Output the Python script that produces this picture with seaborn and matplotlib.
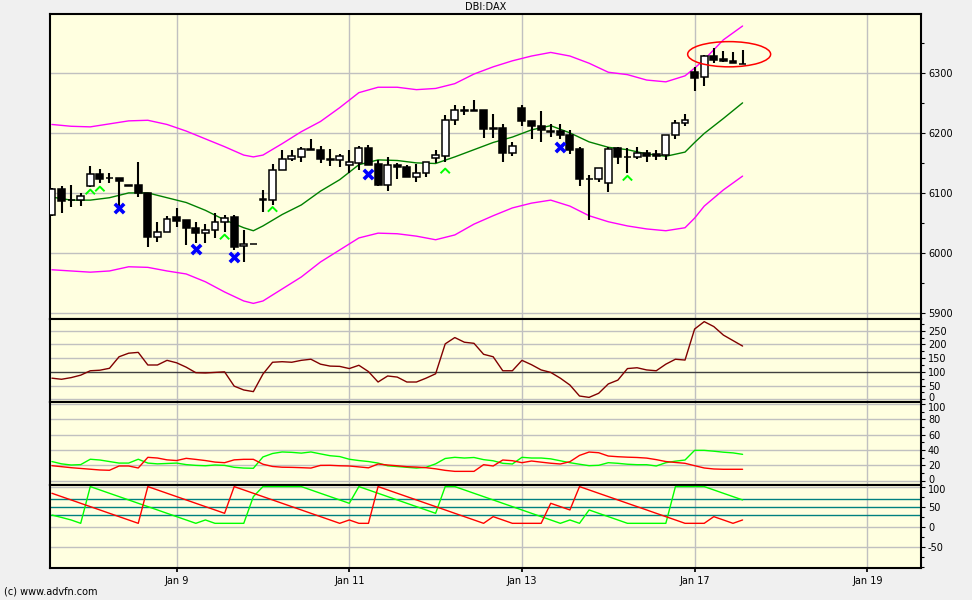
import numpy as np
import pandas as pd
import matplotlib
matplotlib.use("Agg")
import matplotlib.pyplot as plt
import seaborn as sns
from matplotlib.patches import Ellipse
from matplotlib.transforms import ScaledTranslation

sns.set_theme(style="white")
plt.rcParams["font.family"] = ["DejaVu Sans"]
plt.rcParams["axes.unicode_minus"] = False

# ---------------- data ----------------
title = "DBI:DAX"
footer = "(c) www.advfn.com"
day_pos = [13, 31, 49, 67, 85]
day_labels = ["Jan 9", "Jan 11", "Jan 13", "Jan 17", "Jan 19"]

opens = [6063, 6107, 6088, 6088, 6112, 6132, 6125, 6125, 6113, 6113,
         6100, 6027, 6035, 6060, 6055, 6042, 6033, 6038, 6052, 6060,
         6012, 6015, 6090, 6088, 6139, 6156, 6160, 6173, 6172, 6156,
         6154, 6146, 6150, 6174, 6148, 6113, 6146, 6143, 6127, 6133,
         6158, 6162, 6222, 6238, 6238, 6238, 6208, 6208, 6166, 6241,
         6220, 6212, 6203, 6203, 6197, 6173, 6123, 6123, 6117, 6174,
         6160, 6160, 6166, 6165, 6163, 6196, 6216, 6301, 6293, 6328,
         6323, 6320, 6314]
highs = [6108, 6112, 6113, 6100, 6145, 6140, 6133, 6125, 6113, 6152,
         6100, 6052, 6062, 6075, 6055, 6052, 6048, 6067, 6063, 6063,
         6038, 6015, 6105, 6148, 6172, 6172, 6176, 6190, 6178, 6173,
         6165, 6172, 6178, 6180, 6155, 6159, 6150, 6147, 6148, 6151,
         6171, 6229, 6246, 6245, 6255, 6238, 6232, 6215, 6185, 6246,
         6220, 6237, 6215, 6215, 6204, 6176, 6130, 6141, 6177, 6176,
         6175, 6176, 6172, 6172, 6196, 6222, 6232, 6310, 6330, 6341,
         6337, 6334, 6338]
lows = [6061, 6067, 6077, 6078, 6110, 6117, 6117, 6078, 6111, 6093,
        6010, 6018, 6035, 6043, 6013, 6017, 6017, 6025, 6035, 6005,
        5985, 6015, 6068, 6080, 6139, 6153, 6152, 6171, 6150, 6145,
        6143, 6134, 6138, 6147, 6112, 6104, 6123, 6126, 6119, 6126,
        6150, 6152, 6213, 6230, 6236, 6192, 6191, 6151, 6162, 6212,
        6190, 6185, 6193, 6189, 6164, 6112, 6055, 6119, 6102, 6148,
        6133, 6156, 6152, 6155, 6155, 6189, 6211, 6269, 6278, 6316,
        6318, 6316, 6314]
closes = [6107, 6087, 6088, 6095, 6132, 6123, 6125, 6120, 6111, 6100,
          6027, 6035, 6057, 6053, 6042, 6033, 6038, 6052, 6058, 6010,
          6015, 6015, 6088, 6139, 6156, 6161, 6173, 6171, 6156, 6154,
          6162, 6152, 6174, 6147, 6113, 6146, 6143, 6126, 6133, 6151,
          6163, 6222, 6238, 6236, 6236, 6206, 6206, 6166, 6178, 6219,
          6211, 6204, 6201, 6196, 6172, 6123, 6123, 6141, 6173, 6159,
          6160, 6166, 6162, 6161, 6196, 6216, 6221, 6292, 6328, 6322,
          6320, 6316, 6314]

band_idx = [0, 2, 4, 6, 8, 10, 12, 14, 16, 18, 20, 21, 22, 24, 26, 28, 30, 32,
            34, 36, 38, 40, 42, 44, 46, 48, 50, 52, 54, 56, 58, 60, 62, 64,
            66, 67, 68, 70, 72]
band_upper = [6214, 6211, 6210, 6215, 6220, 6221, 6214, 6203, 6190, 6177,
              6163, 6160, 6163, 6182, 6202, 6219, 6242, 6267, 6276, 6276,
              6272, 6274, 6282, 6298, 6310, 6320, 6328, 6334, 6328, 6316,
              6301, 6297, 6288, 6285, 6295, 6308, 6322, 6355, 6378]
band_mid = [6093, 6088, 6088, 6092, 6100, 6100, 6092, 6084, 6071, 6055,
            6042, 6037, 6045, 6064, 6080, 6103, 6122, 6147, 6155, 6154,
            6150, 6149, 6160, 6172, 6184, 6193, 6205, 6212, 6200, 6185,
            6176, 6172, 6165, 6161, 6168, 6184, 6199, 6224, 6250]
band_lower = [5972, 5970, 5968, 5970, 5977, 5976, 5970, 5965, 5952, 5935,
              5920, 5916, 5920, 5940, 5960, 5985, 6005, 6025, 6033, 6032,
              6028, 6022, 6030, 6048, 6062, 6075, 6083, 6088, 6078, 6062,
              6052, 6045, 6040, 6037, 6042, 6058, 6078, 6105, 6128]

sell_idx = [7, 15, 19, 33, 53]
sell_price = [6075, 6007, 5993, 6132, 6177]
buy_idx = [4, 5, 18, 23, 41, 60]
buy_price = [6102, 6107, 6027, 6073, 6137, 6125]

osc = [77, 73, 79, 88, 104, 106, 113, 155, 168, 171,
       125, 125, 142, 133, 117, 97, 96, 98, 100, 48,
       34, 28, 92, 135, 137, 135, 142, 146, 128, 121,
       120, 112, 124, 101, 63, 85, 81, 63, 63, 77,
       93, 202, 225, 208, 204, 164, 155, 104, 104, 142,
       126, 107, 98, 77, 52, 12, 7, 22, 56, 70,
       112, 115, 107, 104, 128, 146, 143, 256, 283, 265,
       234, 214, 194]

di_plus = [25, 22, 20.5, 21, 28, 27, 25, 23, 23, 28,
           23, 22, 22.5, 23, 21, 20, 19.5, 20.5, 20, 17.5,
           16.5, 16.2, 31, 35.5, 37.5, 37, 36, 37.5, 35, 32.6,
           31.5, 28, 26.3, 25, 23, 19.5, 18.5, 17.5, 16.5, 17.5,
           22, 29, 30.5, 29.6, 30.3, 27.5, 26, 22.7, 21.8, 30.5,
           29.6, 29.6, 28.5, 26, 23.5, 21.5, 19.6, 20.1, 23.5, 22.7,
           21.5, 20.9, 20.9, 19.2, 23.5, 25.5, 27, 39.6, 39.6, 38.5,
           37.2, 36.3, 34.4]
di_minus = [19.6, 18.3, 17, 16, 15, 14, 13.6, 19.2, 19.2, 16.6,
            30.5, 29.6, 27.2, 26.3, 29.2, 27.8, 26.3, 24.3, 23.5, 27.2,
            27.9, 27.9, 21.5, 18.6, 17.6, 17.4, 17, 16.5, 20, 20.1,
            19.5, 19.2, 18, 16.8, 21.8, 20.5, 19.5, 18.3, 17.8, 17,
            15.5, 13.5, 12.2, 12.2, 12.2, 20.9, 19.2, 27, 26.1, 23.5,
            25.7, 24.2, 22.8, 21.8, 24.8, 33, 37.4, 36.5, 32.2, 31.3,
            30.7, 30.3, 29.5, 27.5, 25, 23.8, 22.7, 19.6, 16.6, 15.3,
            14.9, 14.9, 14.9]

aroon_up = [29, 23, 16.7, 8.3, 100, 91.7, 83.3, 75, 66.7, 58.3,
            50, 41.7, 33.3, 25, 16.7, 8.3, 16.7, 8.3, 8.3, 8.3,
            8.3, 75, 100, 100, 100, 100, 100, 91.7, 83.3, 75,
            66.7, 58.3, 100, 91.7, 83.3, 75, 66.7, 58.3, 50, 41.7,
            33.3, 100, 100, 91.7, 83.3, 75, 66.7, 58.3, 50, 41.7,
            33.3, 25, 16.7, 8.3, 16.7, 8.3, 41.7, 33.3, 25, 16.7,
            8.3, 8.3, 8.3, 8.3, 8.3, 100, 100, 100, 100, 91.7,
            83.3, 75, 66.7]
aroon_down = [83.3, 75, 66.7, 58.3, 50, 41.7, 33.3, 25, 16.7, 8.3,
              100, 91.7, 83.3, 75, 66.7, 58.3, 50, 41.7, 33.3, 100,
              91.7, 83.3, 75, 66.7, 58.3, 50, 41.7, 33.3, 25, 16.7,
              8.3, 16.7, 8.3, 8.3, 100, 91.7, 83.3, 75, 66.7, 58.3,
              50, 41.7, 33.3, 25, 16.7, 8.3, 25, 16.7, 8.3, 8.3,
              8.3, 8.3, 58.3, 50, 41.7, 100, 91.7, 83.3, 75, 66.7,
              58.3, 50, 41.7, 33.3, 25, 16.7, 8.3, 8.3, 8.3, 25,
              16.7, 8.3, 16.7]

# ---------------- layout ----------------
FIG_BG = "#f0f0f0"
PLOT_BG = "#ffffe0"
GRID = "#c0c0c0"
W, H = 972, 600

fig = plt.figure(figsize=(9.72, 6.0), dpi=100, facecolor=FIG_BG)


def rect(top_px, bot_px):
    return [50 / W, 1 - bot_px / H, 871 / W, (bot_px - top_px) / H]


ax1 = fig.add_axes(rect(14, 319))
ax2 = fig.add_axes(rect(319, 402.3))
ax3 = fig.add_axes(rect(402.3, 485))
ax4 = fig.add_axes(rect(485, 567.7))
axes = [ax1, ax2, ax3, ax4]

n = len(closes)
idx = np.arange(n)
XL = (-0.2, 90.6)

for ax in axes:
    ax.set_facecolor(PLOT_BG)
    ax.set_xlim(*XL)
    for s in ax.spines.values():
        s.set_color("black")
        s.set_linewidth(1.5)
    ax.yaxis.tick_right()
    ax.tick_params(axis="y", which="both", direction="out", right=True, left=False,
                   labelsize=7, pad=2, colors="black", length=3, width=0.8)
    ax.tick_params(axis="y", which="minor", length=2)
    ax.set_xticks(day_pos)
    ax.tick_params(axis="x", bottom=False, labelbottom=False)
    for d in day_pos:
        ax.axvline(d, color=GRID, lw=1.0, zorder=0)

# ---- main price panel ----
ax1.set_ylim(5890, 6398)
ax1.set_yticks([5900, 6000, 6100, 6200, 6300])
ax1.set_yticks(np.arange(5900, 6400, 50), minor=True)
for v in [5900, 6000, 6100, 6200, 6300]:
    ax1.axhline(v, color=GRID, lw=1.0, zorder=0)

df_band = pd.DataFrame({"i": band_idx, "up": band_upper, "mid": band_mid, "lo": band_lower})
sns.lineplot(data=df_band, x="i", y="up", ax=ax1, color="#ff00ff", lw=1.0, legend=False, zorder=2)
sns.lineplot(data=df_band, x="i", y="lo", ax=ax1, color="#ff00ff", lw=1.0, legend=False, zorder=2)
sns.lineplot(data=df_band, x="i", y="mid", ax=ax1, color="#008000", lw=1.0, legend=False, zorder=2)

o = np.array(opens, float)
c = np.array(closes, float)
up = c >= o
ax1.vlines(idx, lows, highs, color="black", lw=1.5, zorder=3)
ax1.bar(idx, np.abs(c - o), bottom=np.minimum(o, c), width=0.72,
        color=np.where(up, "white", "black"), edgecolor="black", linewidth=1.1, zorder=4)

ax1.scatter(sell_idx, sell_price, marker="x", s=45, c="#0000ff", linewidths=2.6, zorder=5)
chevron = [(-1, -0.55), (0, 0.45), (1, -0.55)]
ax1.scatter(buy_idx, buy_price, marker=chevron, s=45, facecolors="none",
            edgecolors="#00ff00", linewidths=1.4, zorder=5)

ax1.add_patch(Ellipse((70.6, 6331), width=8.65, height=42, fill=False,
                      edgecolor="#ff0000", lw=1.1, zorder=6))

# ---- panel 2 ----
ax2.set_ylim(-10.9, 292.6)
ax2.set_yticks([0, 50, 100, 150, 200, 250])
ax2.set_yticks(np.arange(0, 300, 25), minor=True)
for v in [0, 50, 150, 200, 250]:
    ax2.axhline(v, color=GRID, lw=1.0, zorder=0)
ax2.axhline(100, color="#404040", lw=1.0, zorder=1)
sns.lineplot(x=idx, y=osc, ax=ax2, color="#800000", lw=1.0, legend=False, zorder=3)

# ---- panel 3 ----
ax3.set_ylim(-5.6, 102.3)
ax3.set_yticks([0, 20, 40, 60, 80, 100])
ax3.set_yticks(np.arange(0, 101, 10), minor=True)
for v in [0, 20, 40, 60, 80, 100]:
    ax3.axhline(v, color=GRID, lw=1.0, zorder=0)
sns.lineplot(x=idx, y=di_plus, ax=ax3, color="#00ff00", lw=1.0, legend=False, zorder=3)
sns.lineplot(x=idx, y=di_minus, ax=ax3, color="#ff0000", lw=1.0, legend=False, zorder=3)

# ---- panel 4 ----
ax4.set_ylim(-102.5, 104)
ax4.set_yticks([100, 50, 0, -50])
ax4.set_yticks(np.arange(-100, 101, 25), minor=True)
for v in [100, 0, -50]:
    ax4.axhline(v, color=GRID, lw=1.0, zorder=0)
for v in [70, 50, 30]:
    ax4.axhline(v, color="#008080", lw=1.0, zorder=1)
sns.lineplot(x=idx, y=aroon_up, ax=ax4, color="#00ff00", lw=1.0, legend=False, zorder=3)
sns.lineplot(x=idx, y=aroon_down, ax=ax4, color="#ff0000", lw=1.0, legend=False, zorder=3)
ax4.tick_params(axis="x", bottom=True, labelbottom=True, direction="out", length=3,
                labelsize=7, colors="black", pad=3)
ax4.set_xticklabels(day_labels)

for ax in axes:
    ax.set_xlabel("")
    ax.set_ylabel("")


# nudge the labels that meet at panel joins so they do not collide
def nudge(ax, value, dy_px):
    for t in ax.yaxis.get_major_ticks():
        if abs(t.get_loc() - value) < 1e-9:
            off = ScaledTranslation(0, dy_px / 100.0, fig.dpi_scale_trans)
            t.label2.set_transform(t.label2.get_transform() + off)


nudge(ax2, 0, 2.5)
nudge(ax3, 100, -2.5)
nudge(ax3, 0, 2.0)
nudge(ax4, 100, -2.5)

fig.text(0.5, 1 - 7 / H, title, ha="center", va="center", fontsize=7, color="black")
fig.text(4 / W, 1 - 592 / H, footer, ha="left", va="center", fontsize=7, color="black")

fig.savefig("out.png", dpi=100, facecolor=FIG_BG)
